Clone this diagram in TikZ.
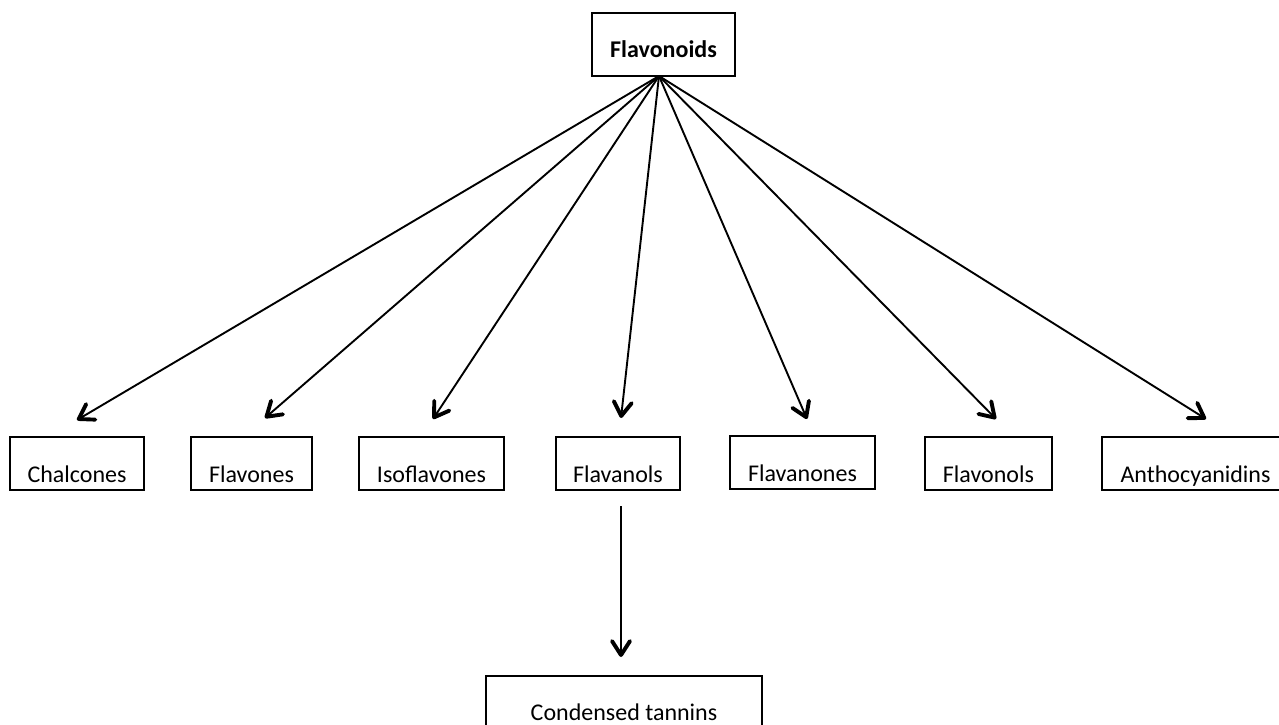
\documentclass[tikz,border=0pt]{standalone}
\usepackage{fontspec}
\setmainfont{Carlito}
\usetikzlibrary{arrows.meta}
\begin{document}
\begin{tikzpicture}[x=1pt,y=-1pt,
  box/.style={draw, line width=1.6pt, inner sep=0pt, font=\fontsize{24}{28}\selectfont, text height=45pt, text depth=8pt},
  conn/.style={line width=1.9pt, -{Straight Barb[length=14pt, width=18pt, line width=2pt 1, round]}}]
\useasboundingbox (0,0) rectangle (1279,725);
\clip (0,0) rectangle (1279,725);
\fill[white] (0,0) rectangle (1279,725);
% boxes
\node[box, minimum width=143pt, text height=44pt, text depth=19pt, font=\fontsize{24}{28}\selectfont\bfseries] (flav) at (663.5,44.5) {Flavonoids};
\node[box, minimum width=134pt] (chal) at (77,463.5) {Chalcones};
\node[box, minimum width=121pt] (flvn) at (251.5,463.5) {Flavones};
\node[box, minimum width=145pt] (iso) at (431.5,463.5) {Isoflavones};
\node[box, minimum width=124pt] (flol) at (618,463.5) {Flavanols};
\node[box, minimum width=145pt] (fnon) at (802.5,462.5) {Flavanones};
\node[box, minimum width=127pt] (fvol) at (988.5,463.5) {Flavonols};
\node[box, minimum width=187pt] (anth) at (1195.5,463.5) {Anthocyanidins};
\node[box, minimum width=276pt, text height=44pt, text depth=11pt] (tann) at (624,703.5) {Condensed tannins};
% connector end points
\coordinate (apex) at (659,76);
\coordinate (tchal) at (77,420);
\coordinate (tflvn) at (265,418);
\coordinate (tiso) at (433,419);
\coordinate (tflol) at (621,418);
\coordinate (tfnon) at (807,419);
\coordinate (tfvol) at (996,419);
\coordinate (tanth) at (1206,419);
\coordinate (dstart) at (621,506);
\coordinate (dend) at (621,657);
% connectors
\draw[conn] (apex) -- (tchal);
\draw[conn] (apex) -- (tflvn);
\draw[conn] (apex) -- (tiso);
\draw[conn] (apex) -- (tflol);
\draw[conn] (apex) -- (tfnon);
\draw[conn] (apex) -- (tfvol);
\draw[conn] (apex) -- (tanth);
\draw[conn] (dstart) -- (dend);
\end{tikzpicture}
\end{document}
